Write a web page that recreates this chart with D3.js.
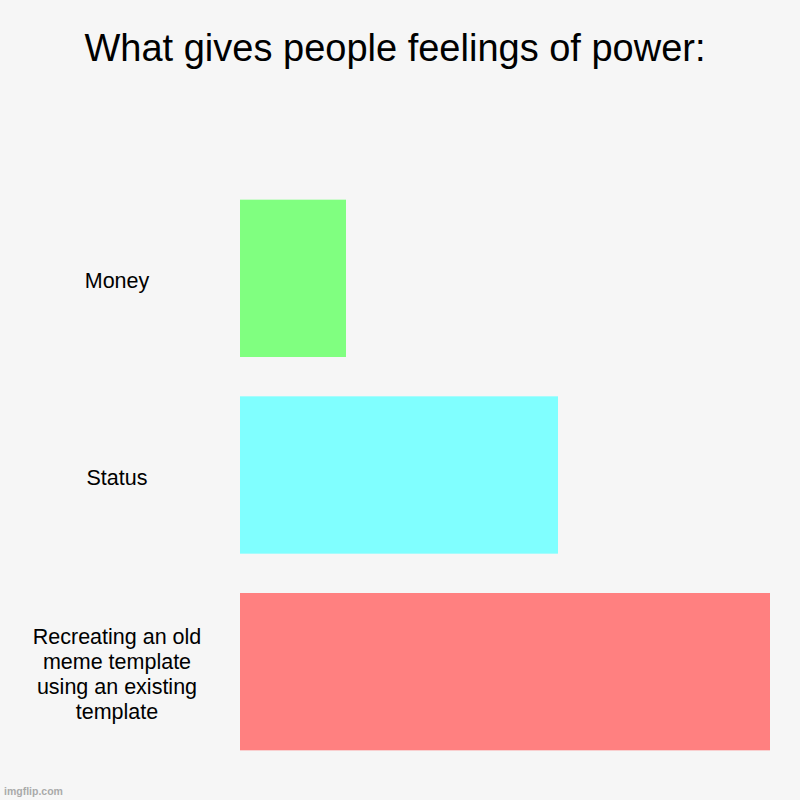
<!DOCTYPE html>
<html lang="en">
  <head>
    <meta charset="utf-8">
    <title>What gives people feelings of power</title>
    <script src="https://cdn.jsdelivr.net/npm/d3@7"></script>
    <style>
      body { margin: 0; background: #f6f6f6; }
      svg { display: block; }
    </style>
  </head>
  <body>
    <div id="chart"></div>
    <script>
      // data
      let categories = ["Money", "Status", "Recreating an old meme template using an existing template"];
      let values = [1, 3, 5];
      let colors = ["#80ff80", "#80ffff", "#ff8080"];
      let labelLines = [
        ["Money"],
        ["Status"],
        ["Recreating an old", "meme template", "using an existing", "template"]
      ];

      let w = 800;
      let h = 800;

      let svg = d3.select("#chart")
                  .append("svg")
                  .attr("width", w)
                  .attr("height", h);

      svg.append("rect")
         .attr("width", w)
         .attr("height", h)
         .attr("fill", "#f6f6f6");

      // title
      svg.append("text")
         .attr("x", 395)
         .attr("y", 61)
         .attr("text-anchor", "middle")
         .attr("font-family", "Liberation Sans, Arial, sans-serif")
         .attr("font-size", "38px")
         .attr("fill", "#000")
         .text("What gives people feelings of power:");

      let x = d3.scaleLinear()
                .domain([0, d3.max(values)])
                .range([240, 770]);

      let y = d3.scaleBand()
                .domain(categories)
                .range([180, 770])
                .paddingInner(0.2)
                .paddingOuter(0.1);

      svg.selectAll("rect.bar")
         .data(values)
         .enter()
         .append("rect")
         .attr("class", "bar")
         .attr("x", x(0))
         .attr("y", (d, i) => y(categories[i]))
         .attr("width", d => x(d) - x(0))
         .attr("height", y.bandwidth())
         .attr("fill", (d, i) => colors[i]);

      // category labels, centred on each band
      let lineH = 25;
      let labels = svg.selectAll("text.label")
         .data(categories)
         .enter()
         .append("text")
         .attr("class", "label")
         .attr("text-anchor", "middle")
         .attr("font-family", "Liberation Sans, Arial, sans-serif")
         .attr("font-size", "21.5px")
         .attr("fill", "#000");

      labels.each(function(d, i) {
        let lines = labelLines[i];
        let cy = y(d) + y.bandwidth() / 2 + 2;
        let top = cy - (lines.length - 1) * lineH / 2;
        d3.select(this).selectAll("tspan")
          .data(lines)
          .enter()
          .append("tspan")
          .attr("x", 117)
          .attr("y", (l, j) => top + j * lineH)
          .attr("dy", "0.35em")
          .text(l => l);
      });

      // watermark
      svg.append("text")
         .attr("x", 4)
         .attr("y", 795)
         .attr("font-family", "Liberation Sans, Arial, sans-serif")
         .attr("font-size", "10.5px")
         .attr("font-weight", "bold")
         .attr("fill", "#aaa")
         .text("imgflip.com");
    </script>
  </body>
</html>
